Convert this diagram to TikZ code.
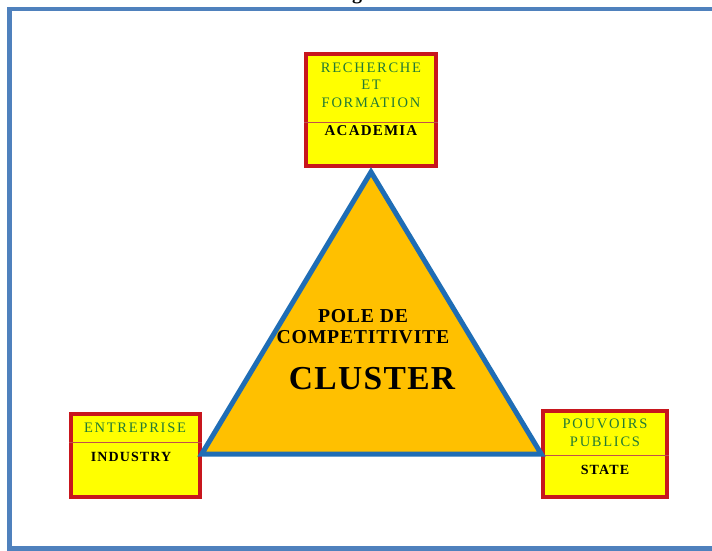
\documentclass[tikz,border=0pt]{standalone}
\usepackage{fontspec}
\setmainfont{Liberation Serif}
\newfontfamily\spacedfont[LetterSpace=12]{Liberation Serif}
\newfontfamily\spacedbold[LetterSpace=8]{Liberation Serif}
\newfontfamily\widebold[LetterSpace=4]{Liberation Serif}
\definecolor{frameblue}{HTML}{4F81BD}
\definecolor{triblue}{HTML}{1F6DB5}
\definecolor{trifill}{HTML}{FFC000}
\definecolor{boxred}{HTML}{C8161D}
\definecolor{boxfill}{HTML}{FFFF00}
\definecolor{labgreen}{HTML}{237A35}
\definecolor{divline}{HTML}{C0504D}
\tikzset{
  x=1pt, y=-1pt,
  actorbox/.style={draw=boxred, fill=boxfill, line width=3.5pt, inner sep=0pt},
  greenlab/.style={text=labgreen, inner sep=0pt, align=center, font=\spacedfont\fontsize{14.5}{17.5}\selectfont},
  blacklab/.style={text=black, inner sep=0pt, align=center, font=\spacedbold\bfseries\fontsize{14}{17}\selectfont},
  divider/.style={draw=divline, line width=1pt},
  tritext/.style={inner sep=0pt, align=center, font=\widebold\bfseries\fontsize{19.7}{21}\selectfont},
}
\begin{document}
\begin{tikzpicture}
\useasboundingbox (0,0) rectangle (712,550);
% cut-off title fragment
\node[anchor=base, inner sep=0pt, font=\bfseries\fontsize{20}{22}\selectfont] (title) at (357,-0.5) {g};
% frame
\draw[frameblue, line width=4.5pt] (720,9) -- (9.5,9) -- (9.5,548.5) -- (720,548.5);
% boxes
\node[actorbox, minimum width=130pt, minimum height=112pt] (acad) at (371,110) {};
\node[actorbox, minimum width=129pt, minimum height=83pt] (ind) at (135.5,455.5) {};
\node[actorbox, minimum width=124pt, minimum height=86pt] (state) at (605,454) {};
% dividers
\draw[divider] (acad.west |- 0,122) -- (acad.east |- 0,122);
\draw[divider] (ind.west |- 0,442) -- (ind.east |- 0,442);
\draw[divider] (state.west |- 0,455) -- (state.east |- 0,455);
% triangle
\coordinate (apex) at (acad.south |- 0,172);
\coordinate (left) at (ind.east |- 0,454);
\coordinate (right) at (state.west |- 0,454);
\draw[triblue, fill=trifill, line width=5pt, line join=miter] (apex) -- (left) -- (right) -- cycle;
% box labels
\node[greenlab] (acadfr) at (371,85) {RECHERCHE\\ET\\FORMATION};
\node[blacklab, font=\spacedbold\bfseries\fontsize{15}{17}\selectfont] (acaden) at (371,131) {ACADEMIA};
\node[greenlab] (indfr) at (135,428) {ENTREPRISE};
\node[blacklab] (inden) at (131,457) {INDUSTRY};
\node[greenlab] (statefr) at (605,433) {POUVOIRS\\PUBLICS};
\node[blacklab] (stateen) at (605,470) {STATE};
% triangle labels
\node[tritext] (pole) at (363,326.5) {POLE DE\\COMPETITIVITE};
\node[tritext, font=\widebold\bfseries\fontsize{33.5}{36}\selectfont] (cluster) at (372,379) {CLUSTER};
\end{tikzpicture}
\end{document}
